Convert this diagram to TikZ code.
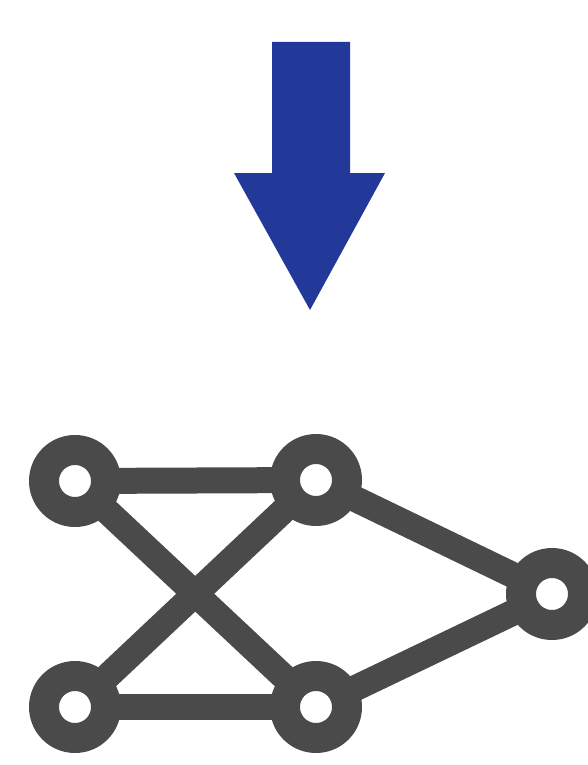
\documentclass[tikz,border=0pt]{standalone}
\usepackage{tikz}
\usetikzlibrary{backgrounds}
\definecolor{netGray}{HTML}{4A4A4A}
\definecolor{downBlue}{HTML}{22399A}
\tikzset{
 net/.style={line cap=round,line join=round},
 vertex/.style={circle,draw=netGray,fill=white,line width=30pt,inner sep=0pt,minimum size=62pt},
 link/.style={draw=netGray,line width=26pt},
 bigarrow/.style={fill=downBlue}
}

\begin{document}
\begin{tikzpicture}[net,x=1pt,y=-1pt]
 \useasboundingbox (0,0) rectangle (588,765);
 % down arrow
 \fill[bigarrow] (272,42)--(350,42)--(350,173)--(385,173)--(310,310)--(234,173)--(272,173)--cycle;
 % graph
 \node[vertex] (tl) at (75,481) {};
 \node[vertex] (tm) at (316,480) {};
 \node[vertex] (rt) at (552,594) {};
 \node[vertex] (bl) at (75,707) {};
 \node[vertex] (bm) at (316,707) {};
 \begin{scope}[on background layer]
  \draw[link] (tl.center)--(tm.center);
  \draw[link] (bl.center)--(bm.center);
  \draw[link] (tl.center)--(bm.center);
  \draw[link] (bl.center)--(tm.center);
  \draw[link] (tm.center)--(rt.center);
  \draw[link] (bm.center)--(rt.center);
 \end{scope}
\end{tikzpicture}
\end{document}
